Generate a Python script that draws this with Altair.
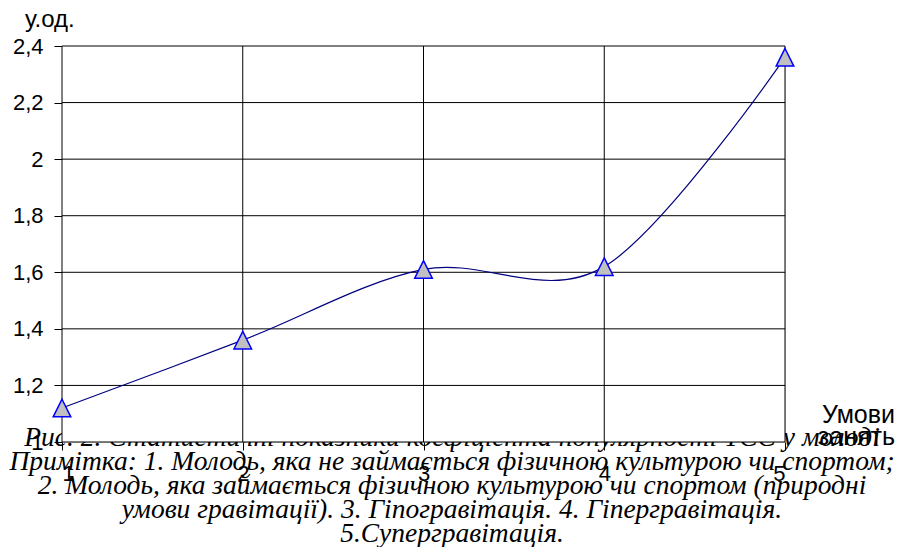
import altair as alt
import pandas as pd

# data
conditions = [1, 2, 3, 4, 5]
values = [1.12, 1.36, 1.61, 1.62, 2.36]
y_ticks = [1.0, 1.2, 1.4, 1.6, 1.8, 2.0, 2.2, 2.4]
x_ticks = [1, 2, 3, 4, 5]
caption_lines = [
    "Рис. 2. Статистичні показники коефіцієнта популярності ТСС у молоді",
    "Примітка: 1. Молодь, яка не займається фізичною культурою чи спортом;",
    "2. Молодь, яка займається фізичною культурою чи спортом (природні",
    "умови гравітації). 3. Гіпогравітація. 4. Гіпергравітація.",
    "5.Супергравітація.",
]
y_title = "у.од."
x_title = ["Умови", "занять"]

df = pd.DataFrame({"x": conditions, "y": values})
xs = alt.Scale(domain=[1, 5], nice=False, zero=False)
ys = alt.Scale(domain=[1.0, 2.4], nice=False, zero=False)

W, H = 723, 396

caption = alt.Chart(pd.DataFrame({"t": [caption_lines]})).mark_text(
    font="Liberation Serif", fontStyle="italic", fontSize=27.5, align="center",
    baseline="alphabetic", lineHeight=24, color="black"
).encode(x=alt.value(390), y=alt.value(400), text="t:N")

titles = alt.Chart(pd.DataFrame({"t": [y_title]})).mark_text(
    font="Liberation Sans", fontSize=24, align="left", baseline="alphabetic", color="black"
).encode(x=alt.value(-37), y=alt.value(-19), text="t:N")

xtitle = alt.Chart(pd.DataFrame({"t": [x_title]})).mark_text(
    font="Liberation Sans", fontSize=25, align="right", baseline="alphabetic",
    lineHeight=22, color="black"
).encode(x=alt.value(833), y=alt.value(377), text="t:N")

bg = alt.Chart(pd.DataFrame({"a": [0]})).mark_rect(fill="white").encode(
    x=alt.value(0), x2=alt.value(W), y=alt.value(0), y2=alt.value(H)
)

vgrid = alt.Chart(pd.DataFrame({"x": x_ticks})).mark_rule(color="black", strokeWidth=1).encode(
    x=alt.X("x:Q", scale=xs,
            axis=alt.Axis(values=x_ticks, format="d", grid=False, domain=False, title=None,
                          tickSize=8, tickColor="black", labelFont="Liberation Sans",
                          labelFontSize=22, labelColor="black", labelPadding=13))
)
hgrid = alt.Chart(pd.DataFrame({"y": y_ticks})).mark_rule(color="black", strokeWidth=1).encode(
    y=alt.Y("y:Q", scale=ys,
            axis=alt.Axis(values=y_ticks, grid=False, domain=False, title=None,
                          tickSize=8, tickColor="black", labelFont="Liberation Sans",
                          labelFontSize=22, labelColor="black", labelPadding=11,
                          labelExpr="replace(format(datum.value, '.1~f'), '.', ',')"))
)

line = alt.Chart(df).mark_line(interpolate="cardinal", color="#000080", strokeWidth=1.2).encode(
    x=alt.X("x:Q", scale=xs), y=alt.Y("y:Q", scale=ys)
)
pts = alt.Chart(df).mark_point(
    shape="M0,-1L1,1L-1,1Z", size=310, filled=True, fill="#c0c0c0", stroke="#0000ff",
    strokeWidth=1.5, opacity=1
).encode(x=alt.X("x:Q", scale=xs), y=alt.Y("y:Q", scale=ys))

chart = alt.layer(caption, titles, xtitle, bg, vgrid, hgrid, line, pts).properties(
    width=W, height=H,
    autosize=alt.AutoSizeParams(type="none"),
    padding={"left": 54, "top": 38, "right": 110, "bottom": 105},
).configure_view(stroke=None).configure(background="white")

chart.save("out.html", embed_options={"renderer": "svg", "actions": False})
